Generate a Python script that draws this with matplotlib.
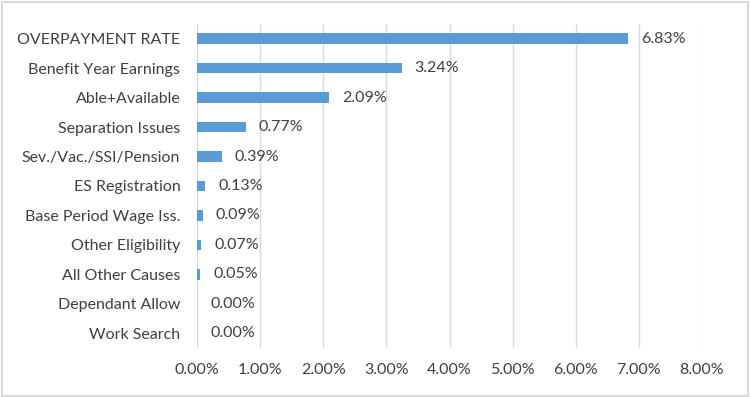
import matplotlib.pyplot as plt
from matplotlib.patches import Rectangle
from matplotlib.ticker import FuncFormatter

categories = ["OVERPAYMENT RATE", "Benefit Year Earnings", "Able+Available",
              "Separation Issues", "Sev./Vac./SSI/Pension", "ES Registration",
              "Base Period Wage Iss.", "Other Eligibility", "All Other Causes",
              "Dependant Allow", "Work Search"]
values = [6.83, 3.24, 2.09, 0.77, 0.39, 0.13, 0.09, 0.07, 0.05, 0.00, 0.00]
x_ticks = [0, 1, 2, 3, 4, 5, 6, 7, 8]

text_color = "#404040"
bar_color = "#5B9BD5"
grid_color = "#D9D9D9"
fs = 11.5

plt.rcParams["font.family"] = ["Lato", "DejaVu Sans"]

fig = plt.figure(figsize=(7.5, 3.97), dpi=100)
# axes box: x 197..702 px, y 24..348 px
ax = fig.add_axes([197 / 750, 1 - 348 / 397, 505 / 750, 324 / 397])

y = list(range(len(categories)))
ax.barh(y, values, height=0.36, color=bar_color, zorder=3)
for yi, v in zip(y, values):
    ax.annotate(f"{v:.2f}%", (v, yi), xytext=(9.5, 0), textcoords="offset points",
                va="center", ha="left", fontsize=fs, color=text_color)

ax.set_ylim(len(categories) - 0.5, -0.5)
ax.set_yticks(y)
ax.set_yticklabels(categories, fontsize=fs, color=text_color)
ax.set_xlim(0, 8)
ax.set_xticks(x_ticks)
ax.xaxis.set_major_formatter(FuncFormatter(lambda v, p: f"{v:.2f}%"))
ax.tick_params(axis="x", labelsize=fs, colors=text_color, length=0, pad=11)
ax.tick_params(axis="y", length=0, pad=12)
ax.grid(axis="x", color=grid_color, linewidth=1, zorder=0)
for s in ax.spines.values():
    s.set_visible(False)

fig.patches.append(Rectangle((0.002, 0.003), 0.995, 0.993, transform=fig.transFigure,
                             fill=False, edgecolor="#D9D9D9", linewidth=1.5))

fig.savefig("out.png", dpi=100)
